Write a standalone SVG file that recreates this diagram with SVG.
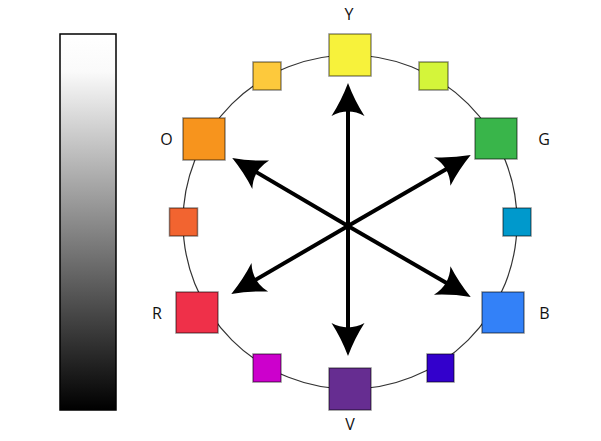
<svg xmlns="http://www.w3.org/2000/svg" width="601" height="441" viewBox="0 0 601 441">
<style>
.sq{stroke:#000;stroke-opacity:0.45;stroke-width:1.5}
.lbl{font-family:"Open Sans","Liberation Sans",sans-serif;font-size:16px;fill:#111;text-anchor:middle}
.arr{stroke:#000;stroke-width:4;fill:none;marker-end:url(#head)}
</style>
<defs>
<linearGradient id="gray" x1="0" y1="0" x2="0" y2="1">
<stop offset="0" stop-color="#ffffff"/>
<stop offset="0.1" stop-color="#fafafa"/>
<stop offset="1" stop-color="#000000"/>
</linearGradient>
<marker id="head" markerUnits="userSpaceOnUse" markerWidth="44" markerHeight="40" viewBox="-34 -18 40 36" refX="-20" refY="0" orient="auto">
<path d="M0,0 Q-16,-6 -30,-15 Q-22,0 -30,15 Q-16,6 0,0 Z" fill="#000"/>
</marker>
</defs>
<g id="grayscale"><rect x="60" y="34" width="56" height="376" fill="url(#gray)" stroke="#000" stroke-width="1.5"/></g>
<g id="wheel"><circle cx="350" cy="222" r="167" fill="none" stroke="#333" stroke-width="1.2"/></g>
<g id="connectors">
<line class="arr" x1="348" y1="226" x2="348" y2="105"/>
<line class="arr" x1="348" y1="226" x2="348" y2="334"/>
<line class="arr" x1="348" y1="226" x2="251.2" y2="169.1"/>
<line class="arr" x1="348" y1="226" x2="451.7" y2="166"/>
<line class="arr" x1="348" y1="226" x2="250.3" y2="282.9"/>
<line class="arr" x1="348" y1="226" x2="451.7" y2="286"/>
</g>
<g id="Y"><rect class="sq" x="329" y="34" width="42" height="42" fill="#f7f23b"/><text class="lbl" x="349" y="20">Y</text></g>
<g id="YO"><rect class="sq" x="253" y="62" width="28" height="28" fill="#fdc93c"/></g>
<g id="O"><rect class="sq" x="183" y="118" width="42" height="42" fill="#f7941d"/><text class="lbl" x="166.5" y="145">O</text></g>
<g id="RO"><rect class="sq" x="169.5" y="208" width="28" height="28" fill="#f26430"/></g>
<g id="R"><rect class="sq" x="176" y="292" width="42" height="41" fill="#ef3049"/><text class="lbl" x="157" y="319">R</text></g>
<g id="M"><rect class="sq" x="253" y="354" width="28" height="28" fill="#cc00cc"/></g>
<g id="V"><rect class="sq" x="329" y="368" width="42" height="42" fill="#662d91"/><text class="lbl" x="350" y="430">V</text></g>
<g id="I"><rect class="sq" x="427" y="354" width="27" height="28" fill="#3300cc"/></g>
<g id="B"><rect class="sq" x="482" y="292" width="42" height="41" fill="#3381f8"/><text class="lbl" x="544.5" y="319">B</text></g>
<g id="C"><rect class="sq" x="503" y="208" width="28" height="28" fill="#0099cc"/></g>
<g id="G"><rect class="sq" x="475" y="118" width="42" height="41" fill="#39b54a"/><text class="lbl" x="544" y="145">G</text></g>
<g id="YG"><rect class="sq" x="419" y="62" width="29" height="28" fill="#d4f53a"/></g>
</svg>
